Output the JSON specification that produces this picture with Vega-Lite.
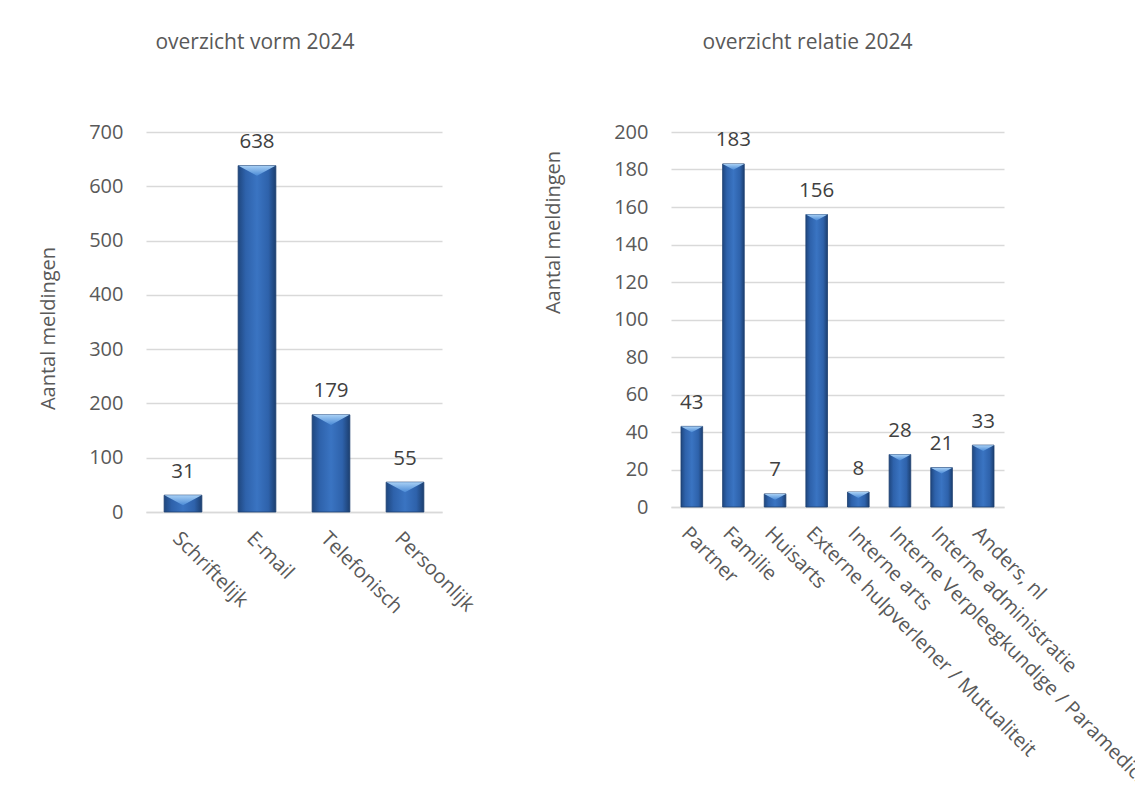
{
  "$schema": "https://vega.github.io/schema/vega-lite/v6.json",
  "background": "white",
  "padding": {"left": 38, "top": 32, "right": 0, "bottom": 0},
  "bounds": "flush",
  "spacing": 229,
  "datasets": {
    "vorm": [
      {"categorie": "Schriftelijk", "aantal": 31},
      {"categorie": "E-mail", "aantal": 638},
      {"categorie": "Telefonisch", "aantal": 179},
      {"categorie": "Persoonlijk", "aantal": 55}
    ],
    "relatie": [
      {"categorie": "Partner", "aantal": 43},
      {"categorie": "Familie", "aantal": 183},
      {"categorie": "Huisarts", "aantal": 7},
      {"categorie": "Externe hulpverlener / Mutualiteit", "aantal": 156},
      {"categorie": "Interne arts", "aantal": 8},
      {"categorie": "Interne Verpleegkundige / Paramedici", "aantal": 28},
      {"categorie": "Interne administratie", "aantal": 21},
      {"categorie": "Anders, nl", "aantal": 33}
    ]
  },
  "config": {
    "font": "Open Sans",
    "view": {"stroke": null},
    "axis": {
      "labelFont": "Open Sans",
      "labelFontSize": 20,
      "labelColor": "#595959",
      "titleFont": "Open Sans",
      "titleFontSize": 20,
      "titleColor": "#595959",
      "titleFontWeight": "normal",
      "gridColor": "#d9d9d9",
      "gridWidth": 1.5,
      "domainColor": "#d9d9d9",
      "domainWidth": 1.5,
      "ticks": false,
      "tickSize": 0,
      "labelLimit": 0
    },
    "axisY": {"domain": false, "grid": true, "labelPadding": 23},
    "axisX": {"grid": false, "labelPadding": 16, "labelAngle": 45},
    "title": {
      "font": "Open Sans",
      "fontSize": 21,
      "fontWeight": "normal",
      "color": "#595959",
      "frame": "group",
      "anchor": "middle"
    }
  },
  "hconcat": [
    {
      "width": 296,
      "height": 380,
      "title": {"text": "overzicht vorm 2024", "dx": -39, "offset": 69},
      "data": {"name": "vorm"},
      "encoding": {
        "x": {
          "field": "categorie",
          "type": "nominal",
          "sort": null,
          "scale": {"paddingInner": 0.49, "paddingOuter": 0.245},
          "axis": {"title": null}
        },
        "y": {
          "field": "aantal",
          "type": "quantitative",
          "scale": {"domain": [0, 700], "nice": false},
          "axis": {
            "title": "Aantal meldingen",
            "values": [0, 100, 200, 300, 400, 500, 600, 700],
            "titlePadding": 30,
            "titleY": 196
          }
        }
      },
      "layer": [
        {
          "mark": {
            "type": "bar",
            "stroke": "#1d3f70",
            "strokeWidth": 0.8,
            "fill": {
              "gradient": "linear", "x1": 0, "y1": 0, "x2": 1, "y2": 0,
              "stops": [
                {"offset": 0, "color": "#1f477f"},
                {"offset": 0.2, "color": "#2e62ab"},
                {"offset": 0.5, "color": "#3a74c2"},
                {"offset": 0.8, "color": "#2e62ab"},
                {"offset": 1, "color": "#1c3f70"}
              ]
            }
          }
        },
        {
          "mark": {
            "type": "point",
            "shape": "M-1,0L1,0L0,0.55Z",
            "filled": true,
            "opacity": 1,
            "size": 1369,
            "strokeWidth": 0,
            "fill": {
              "gradient": "linear", "x1": 0, "y1": 0, "x2": 0, "y2": 1,
              "stops": [
                {"offset": 0, "color": "#a8d0f5"},
                {"offset": 1, "color": "#4a8ad6"}
              ]
            }
          }
        },
        {
          "mark": {
            "type": "text",
            "dy": -17.5,
            "baseline": "alphabetic",
            "fontSize": 20.5,
            "font": "Open Sans",
            "color": "#404040"
          },
          "encoding": {"text": {"field": "aantal", "type": "quantitative"}}
        }
      ]
    },
    {
      "width": 333,
      "height": 375,
      "title": {"text": "overzicht relatie 2024", "dx": -30, "offset": 69},
      "data": {"name": "relatie"},
      "encoding": {
        "x": {
          "field": "categorie",
          "type": "nominal",
          "sort": null,
          "scale": {"paddingInner": 0.48, "paddingOuter": 0.24},
          "axis": {"title": null}
        },
        "y": {
          "field": "aantal",
          "type": "quantitative",
          "scale": {"domain": [0, 200], "nice": false},
          "axis": {
            "title": "Aantal meldingen",
            "values": [0, 20, 40, 60, 80, 100, 120, 140, 160, 180, 200],
            "titlePadding": 50,
            "titleY": 100
          }
        }
      },
      "layer": [
        {
          "mark": {
            "type": "bar",
            "stroke": "#1d3f70",
            "strokeWidth": 0.8,
            "fill": {
              "gradient": "linear", "x1": 0, "y1": 0, "x2": 1, "y2": 0,
              "stops": [
                {"offset": 0, "color": "#1f477f"},
                {"offset": 0.2, "color": "#2e62ab"},
                {"offset": 0.5, "color": "#3a74c2"},
                {"offset": 0.8, "color": "#2e62ab"},
                {"offset": 1, "color": "#1c3f70"}
              ]
            }
          }
        },
        {
          "mark": {
            "type": "point",
            "shape": "M-1,0L1,0L0,0.55Z",
            "filled": true,
            "opacity": 1,
            "size": 471,
            "strokeWidth": 0,
            "fill": {
              "gradient": "linear", "x1": 0, "y1": 0, "x2": 0, "y2": 1,
              "stops": [
                {"offset": 0, "color": "#a8d0f5"},
                {"offset": 1, "color": "#4a8ad6"}
              ]
            }
          }
        },
        {
          "mark": {
            "type": "text",
            "dy": -17.5,
            "baseline": "alphabetic",
            "fontSize": 20.5,
            "font": "Open Sans",
            "color": "#404040"
          },
          "encoding": {"text": {"field": "aantal", "type": "quantitative"}}
        }
      ]
    }
  ]
}
